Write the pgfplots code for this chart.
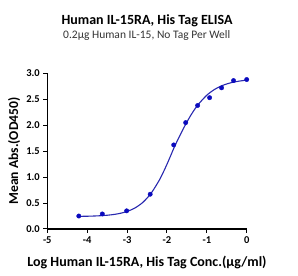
\documentclass[border=0pt]{standalone}
\usepackage{pgfplots}
\pgfplotsset{compat=1.18}
\usepackage{fontspec}
\setmainfont{Carlito}
\definecolor{ptblue}{RGB}{10,10,190}
\definecolor{lnblue}{RGB}{40,40,175}
\begin{document}
\begin{tikzpicture}
\useasboundingbox (-47.3pt,-47pt) rectangle (250.7pt,229pt);
\begin{axis}[
  at={(0,0)}, anchor=south west,
  scale only axis, width=199.4pt, height=155.7pt,
  xmin=-5, xmax=0, ymin=0, ymax=3,
  axis x line*=bottom, axis y line*=left,
  axis line style={-, line width=1.1pt},
  xtick={-5,-4,-3,-2,-1,0},
  ytick={0,0.5,1,1.5,2,2.5,3},
  yticklabel style={/pgf/number format/.cd, fixed, fixed zerofill, precision=1},
  tick style={black, line width=1pt},
  tick align=outside, major tick length=4pt,
  ticklabel style={font=\bfseries\fontsize{10.5}{12}\selectfont},
  /pgf/number format/assume math mode=true,
  clip=false,
]
\addplot[lnblue, line width=1.1pt, smooth, no marks] coordinates {
(-4.2,0.244) (-4.0,0.246) (-3.8,0.251) (-3.6,0.259) (-3.4,0.273) (-3.2,0.297)
(-3.0,0.338) (-2.8,0.406) (-2.6,0.516) (-2.4,0.686) (-2.2,0.929) (-2.1,1.080)
(-2.0,1.246) (-1.9,1.424) (-1.82,1.570) (-1.7,1.762) (-1.6,1.916) (-1.5,2.060)
(-1.4,2.193) (-1.3,2.311) (-1.2,2.414) (-1.0,2.578) (-0.8,2.692) (-0.6,2.768)
(-0.4,2.817) (-0.2,2.848) (0.0,2.868)
};
\addplot[only marks, mark=*, mark size=2.2pt, ptblue] coordinates {
(-4.21,0.25) (-3.62,0.29) (-3.01,0.35) (-2.42,0.67) (-1.83,1.62) (-1.53,2.05)
(-1.23,2.38) (-0.93,2.53) (-0.63,2.72) (-0.33,2.86) (0.0,2.88)
};
\end{axis}
\node[font=\bfseries\fontsize{14}{16}\selectfont] at (99.7pt,208pt) {Human IL-15RA, His Tag ELISA};
\node[font=\fontsize{11.5}{13}\selectfont, text=black!80] at (99.4pt,194pt) {0.2μg Human IL-15, No Tag Per Well};
\node[font=\bfseries\fontsize{13.6}{15}\selectfont, rotate=90] at (-33.3pt,78pt) {Mean Abs.(OD450)};
\node[font=\bfseries\fontsize{14}{16}\selectfont] at (99.7pt,-33.7pt) {Log Human IL-15RA, His Tag Conc.(μg/ml)};
\end{tikzpicture}
\end{document}
